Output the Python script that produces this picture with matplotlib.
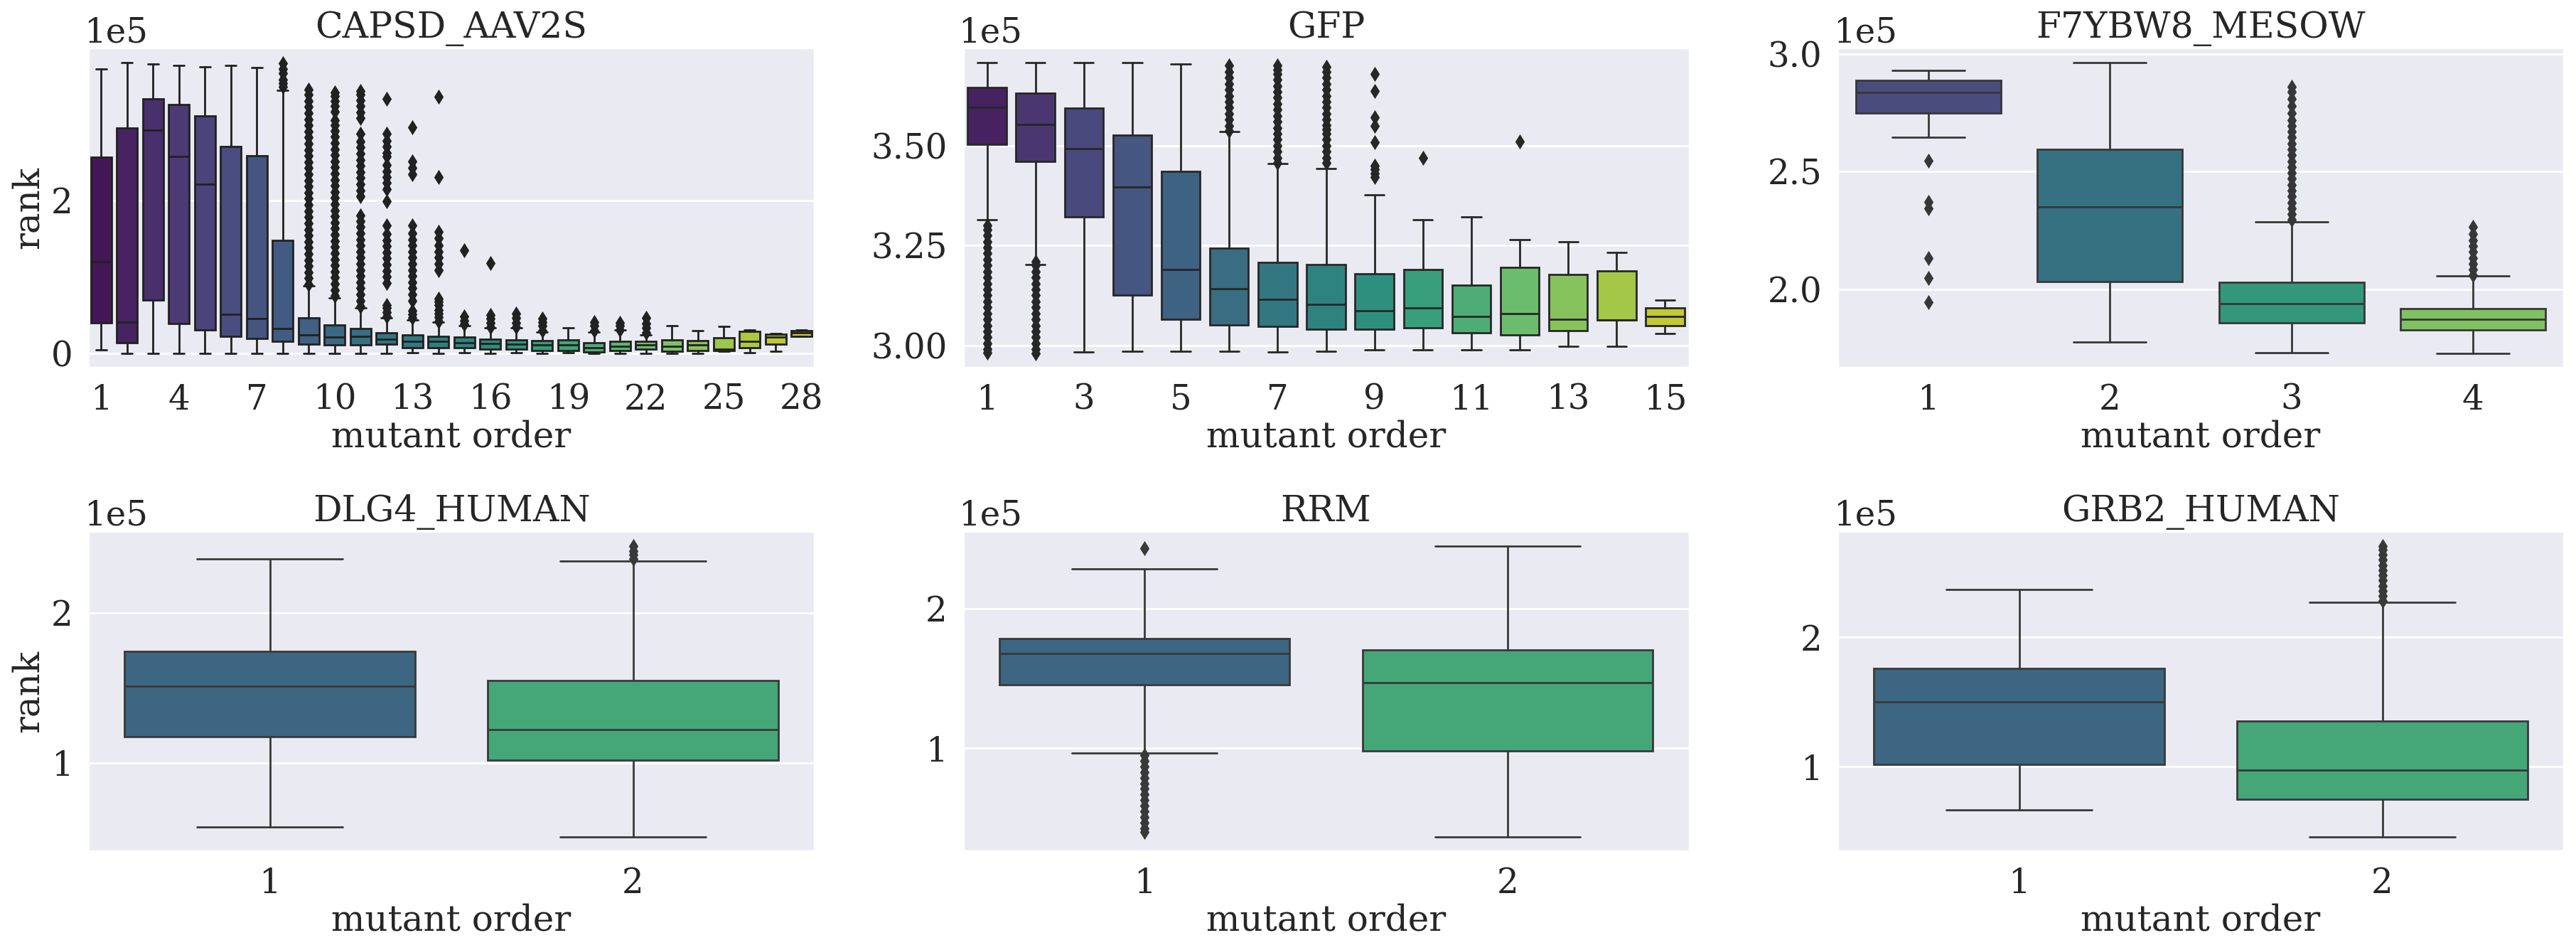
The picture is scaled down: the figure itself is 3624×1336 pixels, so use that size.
import colorsys

import matplotlib

matplotlib.use("Agg")
import matplotlib.pyplot as plt
import seaborn as sns

SCALE = 1e5  # rank values below are given in units of 1e5

# ---------------- CAPSD_AAV2S ----------------
capsd_order = list(range(1, 29))
capsd_whislo = [0.046, 0, 0, 0, 0, 0, 0, 0, 0, 0, 0, 0, 0.005, 0, 0.005, 0, 0.008,
                0, 0.008, 0, 0, 0, 0, 0, 0.03, 0.011, 0.03, 0.218]
capsd_q1 = [0.395, 0.134, 0.697, 0.39, 0.307, 0.226, 0.19, 0.16, 0.123, 0.107, 0.107,
            0.115, 0.077, 0.077, 0.069, 0.057, 0.05, 0.038, 0.038, 0.019, 0.038, 0.05,
            0.03, 0.038, 0.038, 0.069, 0.115, 0.222]
capsd_med = [1.199, 0.41, 2.916, 2.575, 2.215, 0.513, 0.456, 0.326, 0.245, 0.21, 0.226,
             0.184, 0.16, 0.153, 0.142, 0.126, 0.123, 0.107, 0.107, 0.077, 0.096, 0.107,
             0.088, 0.107, 0.055, 0.16, 0.21, 0.268]
capsd_q3 = [2.567, 2.94, 3.326, 3.25, 3.10, 2.705, 2.586, 1.475, 0.46, 0.368, 0.326,
            0.268, 0.241, 0.222, 0.215, 0.184, 0.172, 0.165, 0.172, 0.134, 0.153, 0.153,
            0.18, 0.165, 0.2, 0.287, 0.249, 0.30]
capsd_whishi = [3.72, 3.80, 3.78, 3.766, 3.747, 3.762, 3.73, 3.44, 0.88, 0.72, 0.598,
                0.46, 0.44, 0.41, 0.364, 0.333, 0.333, 0.28, 0.333, 0.28, 0.306, 0.241,
                0.364, 0.30, 0.352, 0.306, 0.257, 0.306]
capsd_fliers = {
    7: [3.48, 3.53, 3.58, 3.66, 3.72, 3.79],
    8: [0.90, 0.98, 1.06, 1.14, 1.22, 1.30, 1.38, 1.46, 1.54, 1.62, 1.70, 1.78, 1.86,
        1.94, 2.02, 2.10, 2.18, 2.26, 2.34, 2.42, 2.50, 2.58, 2.66, 2.74, 2.82, 2.90,
        2.98, 3.06, 3.14, 3.22, 3.30, 3.38, 3.45],
    9: [0.75, 0.83, 0.91, 0.99, 1.07, 1.15, 1.23, 1.31, 1.39, 1.47, 1.55, 1.63, 1.71,
        1.79, 1.87, 1.95, 2.03, 2.11, 2.19, 2.27, 2.35, 2.43, 2.51, 2.59, 2.67, 2.75,
        2.83, 2.91, 2.98, 3.05, 3.16, 3.23, 3.30, 3.36, 3.41],
    10: [0.61, 0.69, 0.77, 0.85, 0.93, 1.01, 1.09, 1.17, 1.25, 1.33, 1.41, 1.49, 1.57,
         1.65, 1.73, 1.80, 2.05, 2.13, 2.21, 2.29, 2.37, 2.45, 2.53, 2.61, 2.69, 2.77,
         2.87, 3.07, 3.15, 3.23, 3.31, 3.38, 3.43],
    11: [0.48, 0.54, 0.59, 0.63, 0.92, 1.00, 1.08, 1.16, 1.24, 1.32, 1.40, 1.48, 1.56,
         1.67, 1.99, 2.15, 2.23, 2.30, 2.38, 2.46, 2.57, 2.62, 2.70, 2.78, 2.87, 3.33],
    12: [0.46, 0.51, 0.556, 0.69, 0.77, 0.85, 0.93, 1.01, 1.09, 1.17, 1.25, 1.33, 1.41,
         1.49, 1.57, 1.67, 2.34, 2.42, 2.51, 2.95],
    13: [0.42, 0.47, 0.52, 0.57, 0.63, 0.68, 0.71, 1.09, 1.17, 1.25, 1.33, 1.41, 1.50,
         1.59, 2.30, 3.35],
    14: [0.38, 0.43, 0.48, 1.35],
    15: [0.345, 0.40, 0.45, 0.50, 1.176],
    16: [0.345, 0.40, 0.46, 0.52],
    17: [0.30, 0.36, 0.41, 0.45],
    19: [0.30, 0.36, 0.41],
    20: [0.31, 0.36, 0.40],
    21: [0.27, 0.33, 0.39, 0.46],
}

# ---------------- GFP ----------------
gfp_order = list(range(1, 16))
gfp_whislo = [3.314, 3.202, 2.984, 2.985, 2.985, 2.985, 2.984, 2.985, 2.988, 2.988,
              2.988, 2.989, 2.998, 2.998, 3.029]
gfp_q1 = [3.504, 3.461, 3.322, 3.126, 3.066, 3.051, 3.048, 3.04, 3.04, 3.044, 3.031,
          3.026, 3.037, 3.064, 3.049]
gfp_med = [3.596, 3.553, 3.492, 3.397, 3.189, 3.141, 3.115, 3.102, 3.086, 3.093, 3.073,
           3.079, 3.066, 3.064, 3.072]
gfp_q3 = [3.645, 3.632, 3.594, 3.526, 3.436, 3.243, 3.208, 3.202, 3.179, 3.19, 3.15,
          3.196, 3.177, 3.186, 3.093]
gfp_whishi = [3.708, 3.708, 3.708, 3.708, 3.705, 3.535, 3.455, 3.442, 3.376, 3.314,
              3.322, 3.265, 3.259, 3.233, 3.113]
gfp_fliers = {
    0: [2.982, 2.99, 3.005, 3.02, 3.035, 3.05, 3.065, 3.08, 3.095, 3.11, 3.125, 3.14,
        3.155, 3.17, 3.185, 3.20, 3.215, 3.23, 3.245, 3.26, 3.275, 3.29, 3.30],
    1: [2.98, 2.99, 3.005, 3.02, 3.035, 3.05, 3.065, 3.08, 3.095, 3.11, 3.125, 3.14,
        3.155, 3.17, 3.185, 3.20, 3.21],
    5: [3.537, 3.55, 3.565, 3.58, 3.595, 3.61, 3.625, 3.64, 3.655, 3.67, 3.685, 3.70],
    6: [3.456, 3.47, 3.485, 3.50, 3.515, 3.53, 3.545, 3.56, 3.575, 3.59, 3.605, 3.62,
        3.635, 3.65, 3.665, 3.68, 3.69, 3.70],
    7: [3.456, 3.47, 3.485, 3.50, 3.515, 3.53, 3.54, 3.552, 3.565, 3.58, 3.595, 3.61,
        3.625, 3.64, 3.655, 3.67, 3.685, 3.697],
    8: [3.68, 3.636, 3.57, 3.549, 3.509, 3.449, 3.44, 3.43, 3.421],
    9: [3.469],
    11: [3.51],
}

# ---------------- F7YBW8_MESOW ----------------
f7_order = [1, 2, 3, 4]
f7_whislo = [2.646, 1.778, 1.732, 1.73]
f7_q1 = [2.749, 2.033, 1.86, 1.828]
f7_med = [2.837, 2.352, 1.94, 1.875]
f7_q3 = [2.886, 2.594, 2.032, 1.921]
f7_whishi = [2.929, 2.963, 2.288, 2.057]
f7_fliers = {
    0: [2.547, 2.371, 2.346, 2.135, 2.048, 1.947],
    2: [2.295, 2.32, 2.345, 2.37, 2.395, 2.42, 2.445, 2.47, 2.495, 2.52, 2.545, 2.57,
        2.595, 2.62, 2.645, 2.67, 2.695, 2.72, 2.75, 2.78, 2.81, 2.84, 2.861],
    3: [2.06, 2.085, 2.11, 2.135, 2.16, 2.185, 2.21, 2.235, 2.265],
}

# ---------------- DLG4_HUMAN ----------------
dlg4_order = [1, 2]
dlg4_whislo = [0.572, 0.508]
dlg4_q1 = [1.176, 1.019]
dlg4_med = [1.512, 1.223]
dlg4_q3 = [1.744, 1.547]
dlg4_whishi = [2.359, 2.345]
dlg4_fliers = {1: [2.36, 2.385, 2.41, 2.446]}

# ---------------- RRM ----------------
rrm_order = [1, 2]
rrm_whislo = [0.964, 0.369]
rrm_q1 = [1.454, 0.983]
rrm_med = [1.679, 1.468]
rrm_q3 = [1.785, 1.705]
rrm_whishi = [2.281, 2.447]
rrm_fliers = {0: [2.428, 0.951, 0.91, 0.87, 0.83, 0.79, 0.75, 0.71, 0.67, 0.63, 0.59,
                  0.55, 0.51, 0.47, 0.43, 0.403]}

# ---------------- GRB2_HUMAN ----------------
grb2_order = [1, 2]
grb2_whislo = [0.667, 0.458]
grb2_q1 = [1.018, 0.748]
grb2_med = [1.501, 0.973]
grb2_q3 = [1.757, 1.353]
grb2_whishi = [2.371, 2.27]
grb2_fliers = {1: [2.281, 2.32, 2.36, 2.40, 2.44, 2.48, 2.52, 2.56, 2.60, 2.64, 2.68,
                   2.708]}

panels = [
    ("CAPSD_AAV2S", capsd_order, capsd_whislo, capsd_q1, capsd_med, capsd_q3, capsd_whishi, capsd_fliers, 3),
    ("GFP", gfp_order, gfp_whislo, gfp_q1, gfp_med, gfp_q3, gfp_whishi, gfp_fliers, 2),
    ("F7YBW8_MESOW", f7_order, f7_whislo, f7_q1, f7_med, f7_q3, f7_whishi, f7_fliers, 1),
    ("DLG4_HUMAN", dlg4_order, dlg4_whislo, dlg4_q1, dlg4_med, dlg4_q3, dlg4_whishi, dlg4_fliers, 1),
    ("RRM", rrm_order, rrm_whislo, rrm_q1, rrm_med, rrm_q3, rrm_whishi, rrm_fliers, 1),
    ("GRB2_HUMAN", grb2_order, grb2_whislo, grb2_q1, grb2_med, grb2_q3, grb2_whishi, grb2_fliers, 1),
]

sns.set_theme(style="darkgrid", font="serif")
plt.rcParams.update({"axes.titlesize": 18.2, "axes.labelsize": 18.0,
                     "xtick.labelsize": 17.4, "ytick.labelsize": 17.4})
base_pad = plt.rcParams["xtick.major.pad"]

fig, axes = plt.subplots(2, 3, figsize=(18.12, 6.68), dpi=200)
fig.subplots_adjust(left=0.03422, right=0.99531, top=0.94948, bottom=0.10404,
                    wspace=0.204, hspace=0.511)

for ax, (title, order, wlo, q1, med, q3, whi, fliers, step) in zip(axes.flat, panels):
    n = len(order)
    # seaborn-like boxplot colours: viridis, desaturated, with a dark gray outline
    colors = [sns.desaturate(c, 0.75) for c in sns.color_palette("viridis", n)]
    lum = min(colorsys.rgb_to_hls(*c)[1] for c in colors) * 0.6
    gray = (lum, lum, lum)

    stats = []
    for i in range(n):
        stats.append(dict(whislo=wlo[i] * SCALE, q1=q1[i] * SCALE, med=med[i] * SCALE,
                          q3=q3[i] * SCALE, whishi=whi[i] * SCALE,
                          fliers=[v * SCALE for v in fliers.get(i, [])]))

    lw = 1.0
    art = ax.bxp(stats, positions=list(range(n)), widths=0.8, patch_artist=True,
                 boxprops=dict(edgecolor=gray, linewidth=lw),
                 whiskerprops=dict(color=gray, linewidth=lw),
                 capprops=dict(color=gray, linewidth=lw),
                 medianprops=dict(color=gray, linewidth=lw),
                 flierprops=dict(marker="d", markerfacecolor=gray, markeredgecolor=gray,
                                 markersize=4.0, linestyle="none"))
    for box, c in zip(art["boxes"], colors):
        box.set_facecolor(c)

    ax.set_xlim(-0.5, n - 0.5)
    pos = list(range(n))
    ax.set_xticks(pos[::step], [str(o) for o in order[::step]])
    ax.xaxis.grid(False)
    ax.ticklabel_format(axis="y", style="sci", scilimits=(0, 0))
    ax.yaxis.offsetText.set_x(-0.006)
    ax.tick_params(length=0, pad=base_pad + 4.3)
    ax.set_title(title, pad=5.2)
    ax.set_xlabel("mutant order", labelpad=1.5)

axes[0, 0].set_ylabel("rank", labelpad=2.6)
axes[1, 0].set_ylabel("rank", labelpad=2.6)

fig.savefig("out.png", dpi=200)
